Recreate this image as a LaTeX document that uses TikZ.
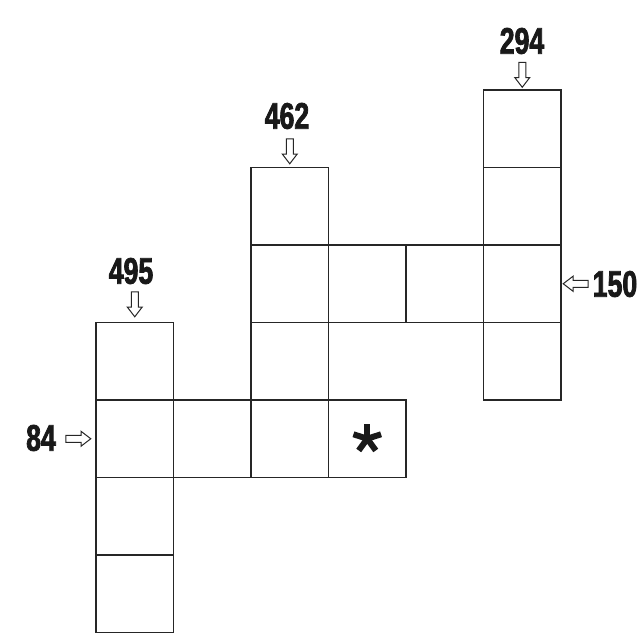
\documentclass[tikz,border=0pt]{standalone}
\usepackage{fontspec}
\usetikzlibrary{shapes.arrows}
\newfontfamily\numfont{Liberation Sans}[FakeStretch=0.72,FakeBold=2]
\tikzset{
  cell/.style={draw=black!85, line width=1.3pt, minimum size=77.5pt, inner sep=0pt, outer sep=0pt},
  num/.style={font=\numfont\bfseries\fontsize{37}{40}\selectfont, text=black!90, inner sep=0pt},
  arr/.style={single arrow, draw=black!85, line width=1pt, fill=white, minimum height=25pt,
     inner sep=3pt, single arrow head extend=4pt, single arrow tip angle=75, outer sep=0pt},
  starline/.style={line width=6pt, black!90}
}
\begin{document}
\begin{tikzpicture}[x=1pt,y=-1pt]
\useasboundingbox (0,0) rectangle (638,639);
% cell centres: x = 96+77.5*(i+0.5), y = 90+77.5*(j+0.5)
% right column
\node[cell] (r1) at (522.25,128.75) {};
\node[cell] (r2) at (522.25,206.25) {};
\node[cell] (r3) at (522.25,283.75) {};
\node[cell] (r4) at (522.25,361.25) {};
% middle row
\node[cell] (m1) at (289.75,283.75) {};
\node[cell] (m2) at (367.25,283.75) {};
\node[cell] (m3) at (444.75,283.75) {};
% middle column
\node[cell] (c1) at (289.75,206.25) {};
\node[cell] (c3) at (289.75,361.25) {};
\node[cell] (c4) at (289.75,438.75) {};
% bottom row
\node[cell] (b2) at (212.25,438.75) {};
\node[cell] (b4) at (367.25,438.75) {};
% left column
\node[cell] (l1) at (134.75,361.25) {};
\node[cell] (l2) at (134.75,438.75) {};
\node[cell] (l3) at (134.75,516.25) {};
\node[cell] (l4) at (134.75,593.75) {};
% star
\coordinate (st) at (b4.center);
\foreach \a in {90,162,234,306,18}
  \draw[starline] (st) -- ++(\a:-14.5);
% labels
\node[num] (t294) at (522,41) {294};
\node[num] (t462) at (287,116) {462};
\node[num] (t495) at (131,271) {495};
\node[num] (t84) at (41,438) {84};
\node[num] (t150) at (615,284) {150};
% arrows
\node[arr, rotate=-90] (a294) at (522.25,72.5) {};
\node[arr, rotate=-90] (a462) at (289.75,149) {};
\node[arr, rotate=-90] (a495) at (134.75,302) {};
\node[arr] (a84) at (76,438.75) {};
\node[arr, rotate=180] (a150) at (578,283.75) {};
\end{tikzpicture}
\end{document}
